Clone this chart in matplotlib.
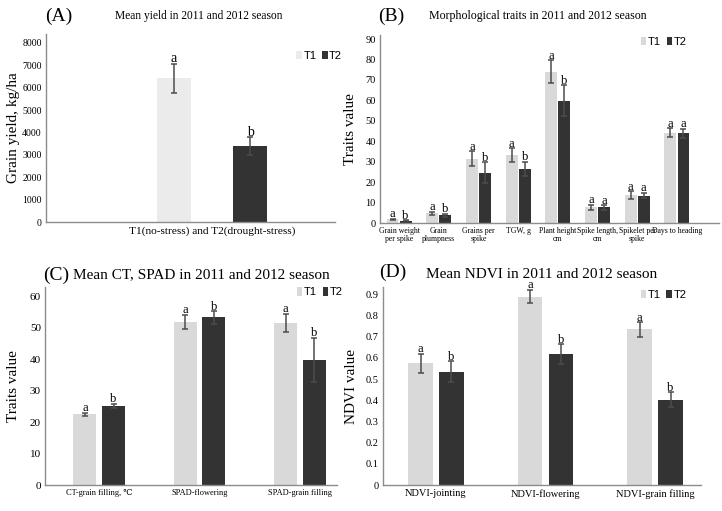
import numpy as np
import matplotlib
matplotlib.use("Agg")
import matplotlib.pyplot as plt

plt.rcParams['font.family'] = ['Liberation Serif', 'DejaVu Serif']

# Panel A: grain yield
a_cat = ['T1(no-stress) and T2(drought-stress)']
a_t1 = [6420]
a_t1_err = [660]
a_t2 = [3380]
a_t2_err = [400]
a_let = [('a', 'b')]

# Panel B: morphological traits
b_cat = ['Grain weight\nper spike', 'Grain\nplumpness', 'Grains per\nspike', 'TGW, g',
         'Plant height\ncm', 'Spike length,\ncm', 'Spikelet per\nspike', 'Days to heading']
b_t1 = [1.8, 4.7, 31.4, 33.2, 74.0, 7.8, 13.6, 44.1]
b_t1_err = [0.3, 0.8, 3.6, 3.3, 5.6, 1.2, 1.9, 2.2]
b_t2 = [1.2, 3.7, 24.7, 26.5, 59.8, 7.6, 13.4, 43.8]
b_t2_err = [0.2, 0.7, 5.0, 3.5, 7.5, 1.0, 1.3, 2.4]
b_let = [('a', 'b'), ('a', 'b'), ('a', 'b'), ('a', 'b'), ('a', 'b'), ('a', 'a'), ('a', 'a'), ('a', 'a')]

# Panel C: CT and SPAD
c_cat = ['CT-grain filling, \u2103', 'SPAD-flowering', 'SPAD-grain filling']
c_t1 = [22.5, 51.8, 51.6]
c_t1_err = [0.5, 2.3, 2.8]
c_t2 = [25.2, 53.3, 39.9]
c_t2_err = [0.7, 2.0, 7.0]
c_let = [('a', 'b'), ('a', 'b'), ('a', 'b')]

# Panel D: NDVI
d_cat = ['NDVI-jointing', 'NDVI-flowering', 'NDVI-grain filling']
d_t1 = [0.574, 0.890, 0.735]
d_t1_err = [0.045, 0.032, 0.034]
d_t2 = [0.535, 0.618, 0.403]
d_t2_err = [0.050, 0.047, 0.034]
d_let = [('a', 'b'), ('a', 'b'), ('a', 'b')]

W, H = 722, 511
fig = plt.figure(figsize=(W / 100, H / 100), dpi=100)


def box(l, t, r, b):
    return [l / W, 1 - b / H, (r - l) / W, (b - t) / H]


def panel(ax, cats, t1, e1, t2, e2, letters, width, off, xlim, ylim, yticks,
          c1, tick_fs, xtick_fs, let_fs, leg_anchor):
    x = np.arange(len(cats))
    ek = dict(ecolor='#4d4d4d', elinewidth=1.1, capsize=2.5, capthick=1.1)
    ax.bar(x - off, t1, width, yerr=e1, color=c1, label='T1', error_kw=ek)
    ax.bar(x + off, t2, width, yerr=e2, color='#333333', label='T2', error_kw=ek)
    for i in range(len(cats)):
        ax.annotate(letters[i][0], (x[i] - off, t1[i] + e1[i]), xytext=(0, -1),
                    textcoords='offset points', ha='center', va='bottom', fontsize=let_fs)
        ax.annotate(letters[i][1], (x[i] + off, t2[i] + e2[i]), xytext=(0, -1),
                    textcoords='offset points', ha='center', va='bottom', fontsize=let_fs)
    ax.set_xlim(*xlim)
    ax.set_ylim(*ylim)
    ax.set_yticks(yticks)
    ax.set_xticks(x)
    ax.set_xticklabels(cats, fontsize=xtick_fs, linespacing=1.0)
    ax.tick_params(axis='both', length=0, pad=3)
    ax.tick_params(axis='y', labelsize=tick_fs)
    for s in ['top', 'right']:
        ax.spines[s].set_visible(False)
    for s in ['left', 'bottom']:
        ax.spines[s].set_color('#8c8c8c')
        ax.spines[s].set_linewidth(1)
    ax.legend(loc='upper right', bbox_to_anchor=leg_anchor, ncol=2, frameon=False,
              handlelength=0.5, handleheight=0.8, handletextpad=0.15, columnspacing=0.5,
              borderaxespad=0, borderpad=0,
              prop={'family': ['Liberation Sans', 'DejaVu Sans'], 'size': 8})
    return ax


axA = fig.add_axes(box(46, 34, 335, 222))
panel(axA, a_cat, a_t1, a_t1_err, a_t2, a_t2_err, a_let, 0.34, 0.38,
      (-1.66, 1.23), (0, 8400), range(0, 8001, 1000), '#ebebeb', 7, 8.2, 10,
      (1.025, 0.91))
axA.set_ylabel('Grain yield, kg/ha', fontsize=11)
axA.yaxis.set_label_coords(-0.09, 0.5)

axB = fig.add_axes(box(380, 35, 719, 223))
panel(axB, b_cat, b_t1, b_t1_err, b_t2, b_t2_err, b_let, 0.3, 0.165,
      (-0.48, 8.06), (0, 92), range(0, 91, 10), '#d9d9d9', 7.5, 5.6, 9,
      (0.905, 0.99))
axB.set_ylabel('Traits value', fontsize=11)
axB.yaxis.set_label_coords(-0.068, 0.5)

axC = fig.add_axes(box(45, 287, 337, 485))
panel(axC, c_cat, c_t1, c_t1_err, c_t2, c_t2_err, c_let, 0.23, 0.143,
      (-0.54, 2.37), (0, 63), range(0, 61, 10), '#d9d9d9', 8, 6, 9,
      (1.02, 1.0))
axC.set_ylabel('Traits value', fontsize=11)
axC.yaxis.set_label_coords(-0.086, 0.5)

axD = fig.add_axes(box(383, 287, 701, 485))
panel(axD, d_cat, d_t1, d_t1_err, d_t2, d_t2_err, d_let, 0.22, 0.1415,
      (-0.484, 2.42), (0, 0.935), np.arange(0, 0.91, 0.1), '#d9d9d9', 7.5, 7.5, 9,
      (0.955, 0.985))
axD.set_yticklabels(['0'] + ['%.1f' % v for v in np.arange(0.1, 0.91, 0.1)])
axD.set_ylabel('NDVI value', fontsize=11)
axD.yaxis.set_label_coords(-0.079, 0.5)

# panel titles
fig.text(45 / W, 1 - 16 / H, '(A)', fontsize=14, va='center')
fig.text(199 / W, 1 - 16 / H, 'Mean yield in 2011 and 2012 season', fontsize=8.3, va='center', ha='center')
fig.text(378 / W, 1 - 16 / H, '(B)', fontsize=14, va='center')
fig.text(538 / W, 1 - 16 / H, 'Morphological traits in 2011 and 2012 season', fontsize=8.6, va='center', ha='center')
fig.text(43 / W, 1 - 275 / H, '(C)', fontsize=14, va='center')
fig.text(201 / W, 1 - 275 / H, 'Mean CT, SPAD in 2011 and 2012 season', fontsize=11, va='center', ha='center')
fig.text(379 / W, 1 - 272 / H, '(D)', fontsize=14, va='center')
fig.text(542 / W, 1 - 274 / H, 'Mean NDVI in 2011 and 2012 season', fontsize=11, va='center', ha='center')

fig.savefig('out.png', dpi=100)
